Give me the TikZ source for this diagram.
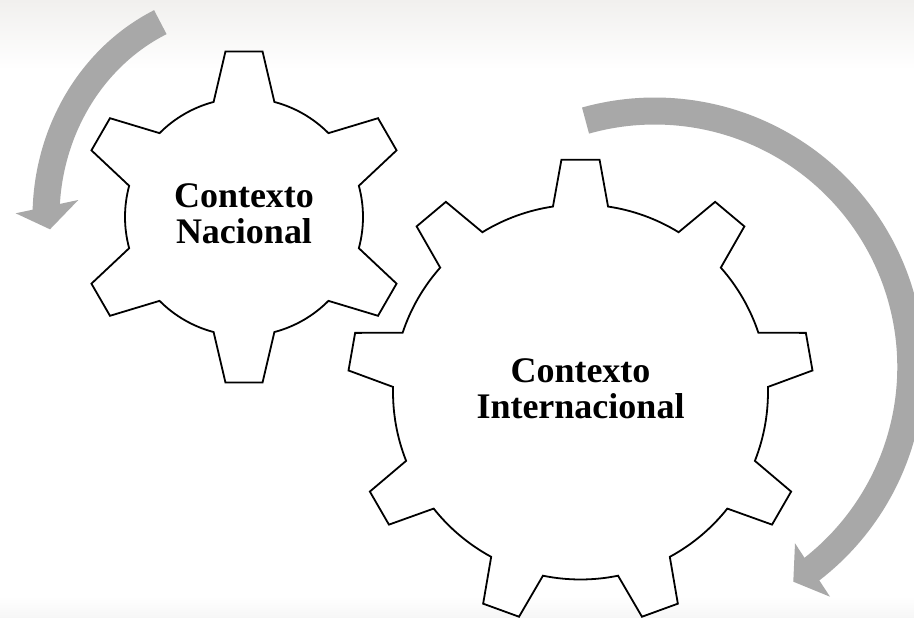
\documentclass[tikz,border=0pt]{standalone}
\usepackage{fontspec}
\setmainfont{Liberation Serif}
\definecolor{arrowgray}{RGB}{168,168,168}
\definecolor{topgray}{RGB}{241,240,238}
\definecolor{bottomgray}{RGB}{246,246,246}
\begin{document}
\begin{tikzpicture}[x=1pt,y=-1pt,
  gearline/.style={draw=black, line width=1.8pt, fill=white, line join=miter},
  arrowshaft/.style={draw=arrowgray, line width=27pt},
  arrowtip/.style={fill=arrowgray, draw=none},
  gearlabel/.style={font=\fontsize{36}{36}\selectfont\bfseries, align=center, text=black}]
\useasboundingbox (0,0) rectangle (914,618);
\clip (0,0) rectangle (914,618);
\fill[white] (0,0) rectangle (914,618);
\shade[top color=topgray, bottom color=white] (0,0) rectangle (914,70);
\shade[top color=white, bottom color=bottomgray] (0,596) rectangle (914,618);

% left arrow
\draw[arrowshaft] plot[domain=115:178.5, samples=60] ({244+198*cos(\x)},{217-215*sin(\x)});
\coordinate (la1) at (15.7,213.3);
\coordinate (la2) at (50,229.3);
\coordinate (la3) at (78.3,200);
\fill[arrowtip] (la1) -- (la2) -- (la3) -- cycle;

% right arrow
\draw[arrowshaft] plot[domain=105.7:-53.6, samples=120] ({654.8+256*cos(\x)},{367-256*sin(\x)});
\coordinate (ra1) at (795,543.3);
\coordinate (ra2) at (793.3,581.7);
\coordinate (ra3) at (830,596.7);
\fill[arrowtip] (ra1) -- (ra2) -- (ra3) -- cycle;

% small gear
\begin{scope}[shift={(244,217)}, yscale=-1]
\draw[gearline] (90-14.8:119)
  \foreach \p [evaluate=\p as \sa using \p+14.8, evaluate=\p as \ea using \p+60-14.8] in {90,150,...,390} {
    -- ({\p-6.4}:166.5) -- ({\p+6.4}:166.5) -- (\sa:119)
    arc[start angle=\sa, end angle=\ea, radius=119] } -- cycle;
\end{scope}

% large gear
\begin{scope}[shift={(580.5,392)}, yscale=-1]
\draw[gearline] (90-8.45:187.5)
  \foreach \p [evaluate=\p as \sa using \p+8.45, evaluate=\p as \ea using \p+40-8.45] in {90,130,...,410} {
    -- ({\p-4.7}:233) -- ({\p+4.7}:233) -- (\sa:187.5)
    arc[start angle=\sa, end angle=\ea, radius=187.5] } -- cycle;
\end{scope}

\node[gearlabel] (nac) at (244,214) {Contexto\\Nacional};
\node[gearlabel] (int) at (580.5,389) {Contexto\\Internacional};
\end{tikzpicture}
\end{document}
